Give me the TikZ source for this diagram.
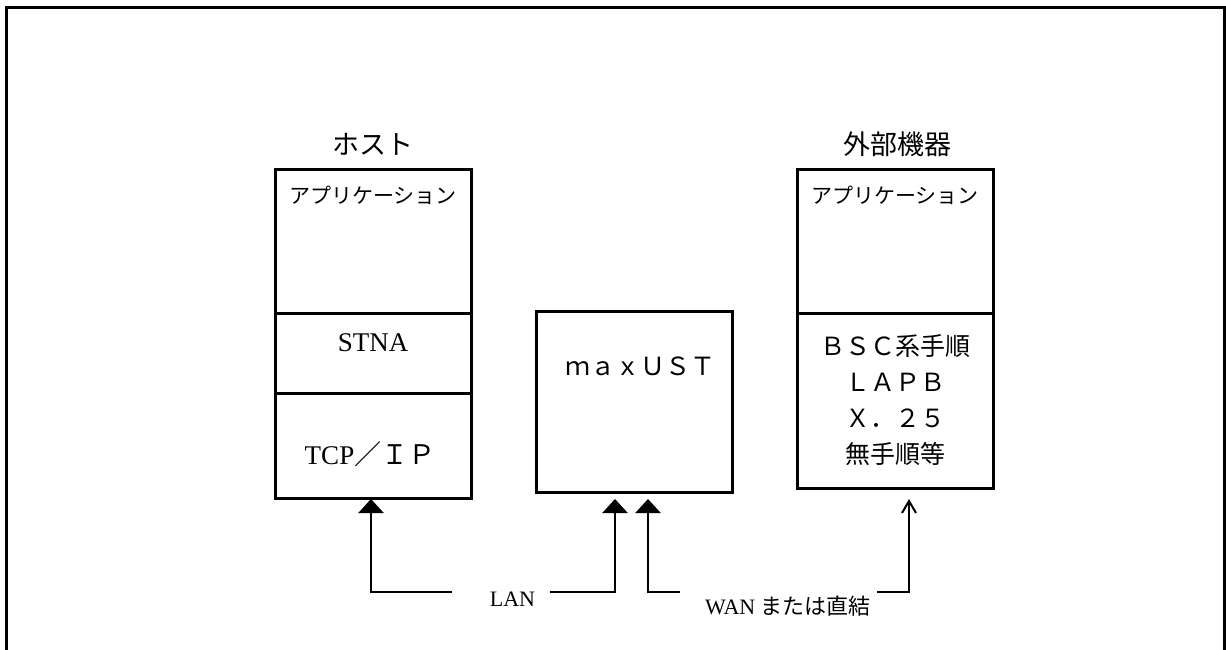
\documentclass[tikz,border=0pt]{standalone}
\usepackage{fontspec}
\setmainfont{Liberation Serif}
\newfontfamily\jp{Noto Sans CJK JP}
\usetikzlibrary{positioning,arrows.meta}

\begin{document}
\begin{tikzpicture}
    [x=1pt, y=-1pt, node distance = 0pt, every node/.style={inner sep=0pt,
      outer sep=0pt}, layer/.style = {draw, line width=3pt, minimum
      width=196pt}, title/.style = {font=\jp\fontsize{27pt}{32pt}\selectfont},
    app/.style = {font=\jp\fontsize{21pt}{26pt}\selectfont},
    proto/.style = {font=\jp\fontsize{25pt}{36pt}\selectfont},
    serif/.style = {font=\fontsize{27pt}{32pt}\selectfont},
    wire/.style = {font=\fontsize{22pt}{26pt}\selectfont},
    solidtip/.style = {line width=2.5pt, -{Triangle[length=14pt, width=25pt]}},
    opentip/.style = {line width=2pt, -{Straight Barb[length=12pt, width=14pt]}}]

    \useasboundingbox (0,0) rectangle (1226,650);
    \draw[line width=3pt] (6.5,650) |- (1224.5,7.5) -- (1224.5,650);

    % host
    \node (hostapp) [layer, minimum height=144pt, anchor=north west] at (275,169) {};
    \node (hoststna) [layer, minimum height=80pt, below =of hostapp] {};
    \node (hosttcp) [layer, minimum height=105pt, below =of hoststna] {};
    \node (hosttitle) [title] at (373,144) {ホスト};
    \node (hostapptext) [app] at (373,195) {アプリケーション};
    \node (stnatext) [serif] at (373,342.5) {STNA};
    \node (tcptext) [serif] at (370,454) {TCP{\jp ／ＩＰ}};

    % maxUST
    \node (ust) [layer, minimum height=181pt, anchor=north west] at (536,311) {};
    \node (usttext) [proto] at (640,366) {ｍａｘＵＳＴ};

    % external device
    \node (extapp) [layer, minimum height=144pt, anchor=north west] at (797,169) {};
    \node (extproto) [layer, minimum height=175pt, below =of extapp] {};
    \node (exttitle) [title] at (897,144) {外部機器};
    \node (extapptext) [app] at (895,195) {アプリケーション};
    \node (prototext) [proto, align=center] at (895,400.5)
    {ＢＳＣ系手順\\
      ＬＡＰＢ\\
      Ｘ．２５\\
      無手順等
    };

    % lines
    \node (lan) [wire] at (512.5,599) {LAN};
    \node (wan) [wire] at (788,606) {WAN {\jp または直結}};
    \coordinate (lanleft) at (452,592);
    \coordinate (lanright) at (550,592);
    \coordinate (wanleft) at (680,592);
    \coordinate (wanright) at (877,592);
    \draw[solidtip, shorten >=1pt] (lanleft) -| ([xshift=-2pt]hosttcp.south);
    \draw[solidtip, shorten >=7pt] (lanright) -| ([xshift=-19pt]ust.south);
    \draw[solidtip, shorten >=7pt] (wanleft) -| ([xshift=14pt]ust.south);
    \draw[opentip, shorten >=11pt] (wanright) -| ([xshift=14pt]extproto.south);
  \end{tikzpicture}
\end{document}
